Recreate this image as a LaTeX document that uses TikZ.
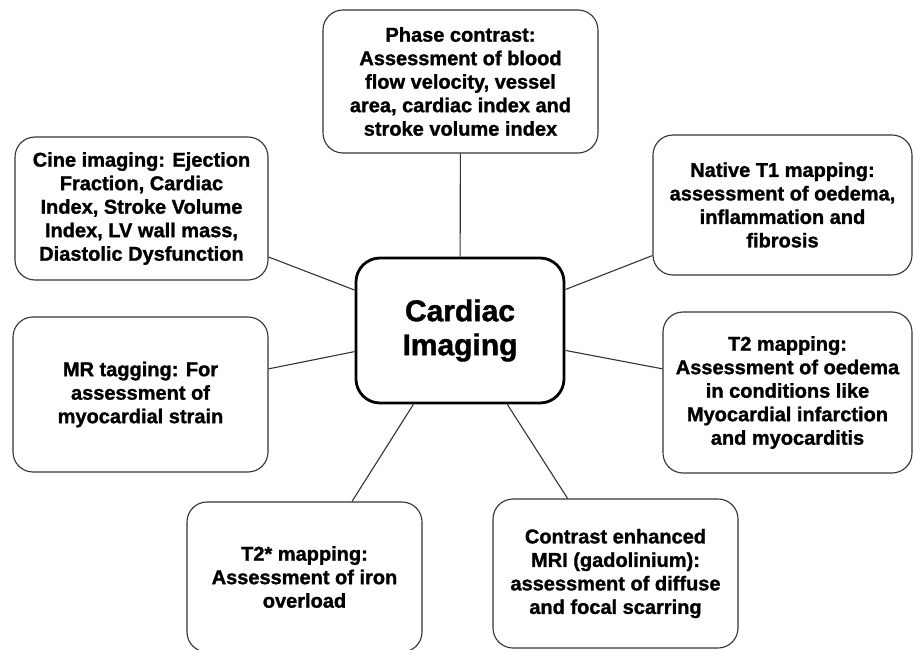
\documentclass[tikz,border=0pt]{standalone}
\usepackage{fontspec}
\setmainfont{Liberation Sans}[BoldFeatures={FakeBold=1.3}]
\usepackage{tikz}
\usetikzlibrary{positioning}

\begin{document}
\begin{tikzpicture}[
  x=1pt, y=-1pt,
  item/.style={draw=black!80, line width=1.1pt, rounded corners=20pt, fill=white, align=center, inner sep=0pt, font=\bfseries\fontsize{20}{23.5}\selectfont},
  hub/.style={draw=black, line width=2.8pt, rounded corners=24pt, fill=white, align=center, inner sep=0pt, font=\bfseries\fontsize{30}{34}\selectfont},
  link/.style={draw=black!80, line width=1.1pt}
]
\useasboundingbox (0,0) rectangle (913,650);

% Centre
\node[hub, minimum width=208pt, minimum height=145pt] (hub) at (460,330.5) {Cardiac\\Imaging};

% Top
\node[item, minimum width=275pt, minimum height=143pt] (phase) at (460.5,81.5) {Phase contrast:\\Assessment of blood\\flow velocity, vessel\\area, cardiac index and\\stroke volume index};

% Left side
\node[item, minimum width=253pt, minimum height=143pt] (cine) at (141.5,208.5) {Cine imaging: Ejection\\Fraction, Cardiac\\Index, Stroke Volume\\Index, LV wall mass,\\Diastolic Dysfunction};
\node[item, minimum width=255pt, minimum height=155pt] (tagging) at (140.5,394.5) {MR tagging: For\\assessment of\\myocardial strain};

% Right side
\node[item, minimum width=259pt, minimum height=140pt] (tone) at (782.5,205) {Native T1 mapping:\\assessment of oedema,\\inflammation and\\fibrosis};
\node[item, minimum width=249pt, minimum height=161pt] (ttwo) at (787.5,392.5) {T2 mapping:\\Assessment of oedema\\in conditions like\\Myocardial infarction\\and myocarditis};

% Bottom
\node[item, minimum width=235pt, minimum height=150pt] (tstar) at (304.5,577) {T2* mapping:\\Assessment of iron\\overload};
\node[item, minimum width=245pt, minimum height=149pt] (gado) at (615.5,573.5) {Contrast enhanced\\MRI (gadolinium):\\assessment of diffuse\\and focal scarring};

\draw[link] (hub) -- (phase);
\draw[link] (hub) -- (cine);
\draw[link] (hub) -- (tagging);
\draw[link] (hub) -- (tone);
\draw[link] (hub) -- (ttwo);
\draw[link] (hub) -- (tstar);
\draw[link] (hub) -- (gado);
\end{tikzpicture}
\end{document}
